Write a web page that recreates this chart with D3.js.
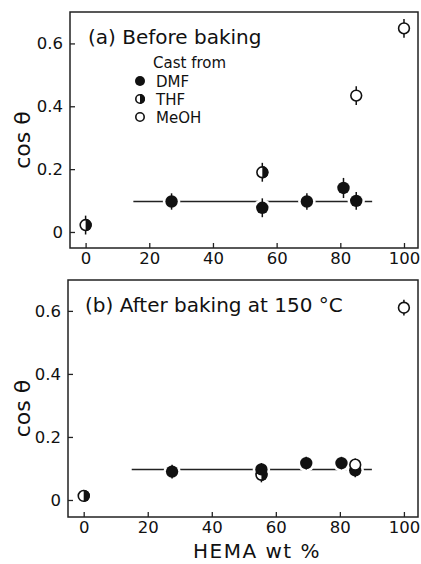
<!DOCTYPE html>
<html>
<head>
<meta charset="utf-8">
<script src="https://d3js.org/d3.v7.min.js"></script>
<style>
  body { margin: 0; background: #fff; }
  text { font-family: "DejaVu Sans", sans-serif; fill: #111; }
</style>
</head>
<body>
<script>
// tick values and labels
const xTicks = [0, 20, 40, 60, 80, 100];
const yTicks = [0, 0.2, 0.4, 0.6];
const yTickLabels = ["0", "0.2", "0.4", "0.6"];

// (a) before baking
const aDMF_x = [27, 55.5, 69.5, 81, 85];
const aDMF_y = [0.097, 0.077, 0.097, 0.14, 0.099];
const aDMF_err = [0.026, 0.03, 0.026, 0.032, 0.028];
const aTHF_x = [0, 55.5];
const aTHF_y = [0.022, 0.19];
const aTHF_err = [0.03, 0.03];
const aMeOH_x = [85, 100];
const aMeOH_y = [0.434, 0.648];
const aMeOH_err = [0.03, 0.03];

// (b) after baking at 150 C
const bDMF_x = [27.6, 55.5, 69.5, 80.5, 84.8];
const bDMF_y = [0.09, 0.097, 0.117, 0.117, 0.094];
const bDMF_err = [0.022, 0.02, 0.02, 0.02, 0.022];
const bTHF_x = [0, 55.5];
const bTHF_y = [0.013, 0.08];
const bTHF_err = [0.008, 0.024];
const bMeOH_x = [84.8, 100];
const bMeOH_y = [0.112, 0.61];
const bMeOH_err = [0.02, 0.025];

// reference line cos θ ≈ 0.1 from 15 to 90 wt%
const lineX = [15, 90];
const lineY = [0.097, 0.097];

const legendNames = ["DMF", "THF", "MeOH"];

const svg = d3.select("body").append("svg")
  .attr("width", 421).attr("height", 564);

const R = 6.2;

function zip(xs, ys, es, kind) {
  return xs.map((x, i) => ({x: x, y: ys[i], e: es[i], kind: kind}));
}

function marker(g, cx, cy, r, kind) {
  if (kind === "DMF") {
    g.append("circle").attr("cx", cx).attr("cy", cy).attr("r", r).attr("fill", "#111");
  } else if (kind === "MeOH") {
    g.append("circle").attr("cx", cx).attr("cy", cy).attr("r", r - 0.8)
      .attr("fill", "#fff").attr("stroke", "#111").attr("stroke-width", 1.6);
  } else {
    g.append("circle").attr("cx", cx).attr("cy", cy).attr("r", r - 0.8)
      .attr("fill", "#fff").attr("stroke", "#111").attr("stroke-width", 1.6);
    const arc = d3.arc().innerRadius(0).outerRadius(r).startAngle(0).endAngle(Math.PI);
    g.append("path").attr("transform", `translate(${cx},${cy})`).attr("d", arc()).attr("fill", "#111");
  }
}

function panel(cfg) {
  const x = d3.scaleLinear().domain([-4.9, 104.4]).range([cfg.left, 418]);
  const y = d3.scaleLinear().domain(cfg.yDomain).range([cfg.bottom, cfg.top]);
  const g = svg.append("g");

  // frame
  g.append("rect").attr("x", cfg.left).attr("y", cfg.top)
    .attr("width", 418 - cfg.left).attr("height", cfg.bottom - cfg.top)
    .attr("fill", "none").attr("stroke", "#222").attr("stroke-width", 1.5);

  // inward ticks
  const xa = g.append("g").attr("transform", `translate(0,${cfg.bottom})`)
    .call(d3.axisBottom(x).tickValues(xTicks).tickSizeInner(-5).tickSizeOuter(0).tickPadding(4));
  const ya = g.append("g").attr("transform", `translate(${cfg.left},0)`)
    .call(d3.axisLeft(y).tickValues(yTicks).tickFormat((d, i) => yTickLabels[i])
      .tickSizeInner(-5).tickSizeOuter(0).tickPadding(7));
  [xa, ya].forEach(a => {
    a.select(".domain").remove();
    a.selectAll("line").attr("stroke", "#222").attr("stroke-width", 1.3);
    a.selectAll("text").attr("font-size", 16.5).attr("fill", "#111")
      .style("font-family", "'DejaVu Sans', sans-serif");
  });

  // y axis title
  g.append("text")
    .attr("transform", `translate(30,${(cfg.top + cfg.bottom) / 2 + 10}) rotate(-90)`)
    .attr("text-anchor", "middle").attr("font-size", 22).text("cos θ");

  // panel title
  g.append("text").attr("x", cfg.titleX).attr("y", cfg.top + 32)
    .attr("font-size", 20).text(cfg.title);

  // reference line
  g.append("line").attr("x1", x(lineX[0])).attr("x2", x(lineX[1]))
    .attr("y1", y(lineY[0])).attr("y2", y(lineY[1]))
    .attr("stroke", "#222").attr("stroke-width", 1.5);

  const pts = cfg.points;
  // white halo to break the line around markers
  g.selectAll(".halo").data(pts).join("circle")
    .attr("cx", d => x(d.x)).attr("cy", d => y(d.y)).attr("r", R + 2.5).attr("fill", "#fff");
  // error bars
  g.selectAll(".err").data(pts).join("line")
    .attr("x1", d => x(d.x)).attr("x2", d => x(d.x))
    .attr("y1", d => y(d.y - d.e)).attr("y2", d => y(d.y + d.e))
    .attr("stroke", "#111").attr("stroke-width", 1.5);
  pts.forEach(d => marker(g, x(d.x), y(d.y), R, d.kind));
  return g;
}

const ga = panel({
  left: 70, top: 12, bottom: 248, yDomain: [-0.051, 0.70],
  title: "(a) Before baking", titleX: 88,
  points: [].concat(zip(aTHF_x, aTHF_y, aTHF_err, "THF"),
                    zip(aDMF_x, aDMF_y, aDMF_err, "DMF"),
                    zip(aMeOH_x, aMeOH_y, aMeOH_err, "MeOH"))
});

panel({
  left: 68, top: 280, bottom: 517, yDomain: [-0.054, 0.698],
  title: "(b) After baking at 150 °C", titleX: 85,
  points: [].concat(zip(bTHF_x, bTHF_y, bTHF_err, "THF"),
                    zip(bDMF_x, bDMF_y, bDMF_err, "DMF"),
                    zip(bMeOH_x, bMeOH_y, bMeOH_err, "MeOH"))
});

// legend in panel (a)
ga.append("text").attr("x", 153).attr("y", 68).attr("font-size", 15).text("Cast from");
legendNames.forEach((n, i) => {
  const cy = 81 + i * 18;
  marker(ga, 140, cy, 5, n);
  ga.append("text").attr("x", 156).attr("y", cy + 5.5).attr("font-size", 15).text(n);
});

// x axis title
svg.append("text").attr("x", 257).attr("y", 558).attr("text-anchor", "middle")
  .attr("font-size", 20).attr("letter-spacing", 1.5).text("HEMA wt %");
</script>
</body>
</html>
